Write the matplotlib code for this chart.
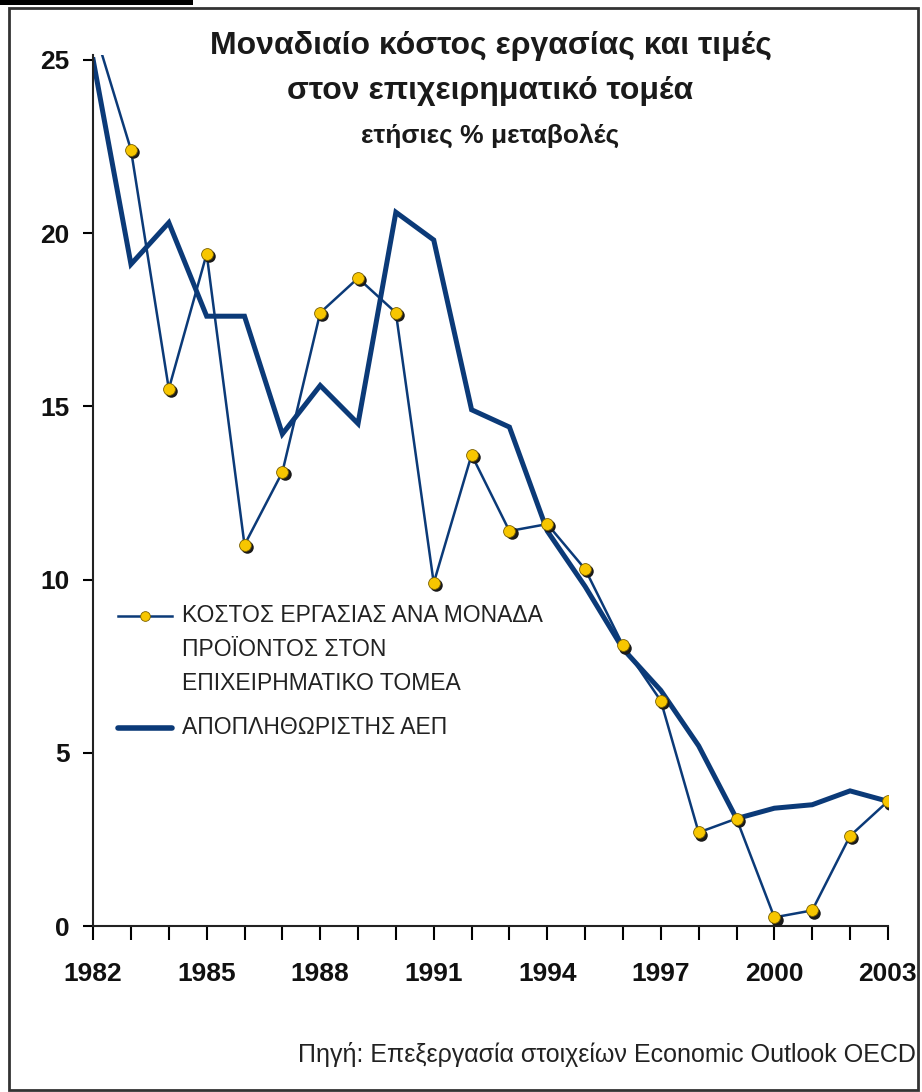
import matplotlib.pyplot as plt
import matplotlib.transforms as mtransforms
from matplotlib.lines import Line2D
from matplotlib.patches import Rectangle

plt.rcParams['font.family'] = ['Liberation Sans', 'DejaVu Sans']

# Data
years = list(range(1982, 2004))
labour_cost = [26.0, 22.4, 15.5, 19.4, 11.0, 13.1, 17.7, 18.7, 17.7, 9.9, 13.6,
               11.4, 11.6, 10.3, 8.1, 6.5, 2.7, 3.1, 0.25, 0.45, 2.6, 3.6]
gdp_deflator = [25.0, 19.1, 20.3, 17.6, 17.6, 14.2, 15.6, 14.5, 20.6, 19.8, 14.9,
                14.4, 11.4, 9.8, 8.0, 6.8, 5.2, 3.1, 3.4, 3.5, 3.9, 3.6]
ytick_vals = [0, 5, 10, 15, 20, 25]
xtick_labels = [1982, 1985, 1988, 1991, 1994, 1997, 2000, 2003]

label_cost = ['ΚΟΣΤΟΣ ΕΡΓΑΣΙΑΣ ΑΝΑ ΜΟΝΑΔΑ', 'ΠΡΟΪΟΝΤΟΣ ΣΤΟΝ', 'ΕΠΙΧΕΙΡΗΜΑΤΙΚΟ ΤΟΜΕΑ']
label_defl = 'ΑΠΟΠΛΗΘΩΡΙΣΤΗΣ ΑΕΠ'

navy = '#0b3a78'
yellow = '#f7c600'

fig = plt.figure(figsize=(9.22, 10.92), dpi=100)
ax = fig.add_axes([0.101, 0.152, 0.862, 0.798])

# thick line: GDP deflator
ax.plot(years, gdp_deflator, color=navy, lw=3.6, solid_joinstyle='miter', zorder=2)
# thin line with markers: unit labour cost
ax.plot(years, labour_cost, color=navy, lw=1.8, zorder=3)
shadow = mtransforms.offset_copy(ax.transData, fig=fig, x=1.6, y=-1.6, units='points')
ax.plot(years, labour_cost, ls='none', marker='o', ms=9, color='#1a1a1a',
        mec='none', transform=shadow, zorder=4)
ax.plot(years, labour_cost, ls='none', marker='o', ms=8.5, mfc=yellow,
        mec='#7a6000', mew=0.6, zorder=5)

ax.set_xlim(1982, 2003)
ax.set_ylim(0, 25.15)
ax.set_yticks(ytick_vals)
ax.set_xticks(years)
ax.set_xticklabels([str(y) if y in xtick_labels else '' for y in years])
ax.tick_params(axis='y', direction='out', length=7, width=1.5, pad=10,
               labelsize=19)
ax.tick_params(axis='x', direction='out', length=10, width=1.5, pad=16,
               labelsize=19)
for lab in ax.get_xticklabels() + ax.get_yticklabels():
    lab.set_fontweight('bold')
    lab.set_color('#111111')
for side in ['top', 'right']:
    ax.spines[side].set_visible(False)
for side in ['left', 'bottom']:
    ax.spines[side].set_linewidth(1.5)
    ax.spines[side].set_color('#222222')

# title
fig.text(0.532, 0.958, 'Μοναδιαίο κόστος εργασίας και τιμές', ha='center',
         va='center', fontsize=23, fontweight='bold', color='#1a1a1a')
fig.text(0.532, 0.917, 'στον επιχειρηματικό τομέα', ha='center',
         va='center', fontsize=23, fontweight='bold', color='#1a1a1a')
fig.text(0.532, 0.876, 'ετήσιες % μεταβολές', ha='center',
         va='center', fontsize=19, fontweight='bold', color='#1a1a1a')

# legend, drawn by hand so the handle sits on the first text line
def px(x, y):
    return x / 922, 1 - y / 1092

h1 = Line2D([px(118, 0)[0], px(172, 0)[0]], [px(0, 616)[1]] * 2, color=navy,
            lw=1.8, transform=fig.transFigure)
m1 = Line2D([px(145, 0)[0]], [px(0, 616)[1]], ls='none', marker='o', ms=7,
            mfc=yellow, mec='#7a6000', mew=0.6, transform=fig.transFigure)
h2 = Line2D([px(118, 0)[0], px(172, 0)[0]], [px(0, 728)[1]] * 2, color=navy,
            lw=4, solid_capstyle='round', transform=fig.transFigure)
fig.lines.extend([h1, m1, h2])
for text, ypix in zip(label_cost + [label_defl], [616, 650, 683, 728]):
    fig.text(*px(182, ypix), text, ha='left', va='center', fontsize=16.5,
             color='#222222')

# source
fig.text(0.993, 0.034, 'Πηγή: Επεξεργασία στοιχείων Economic Outlook OECD',
         ha='right', va='center', fontsize=18, color='#222222')

# outer frame and top-left bar
fig.patches.append(Rectangle((9 / 922, 2 / 1092), 909 / 922, 1082 / 1092,
                             transform=fig.transFigure, fill=False,
                             edgecolor='#333333', lw=2))
fig.patches.append(Rectangle((0, 1 - 5 / 1092), 193 / 922, 5 / 1092,
                             transform=fig.transFigure, facecolor='black',
                             edgecolor='none'))

fig.savefig('out.png', dpi=100)
